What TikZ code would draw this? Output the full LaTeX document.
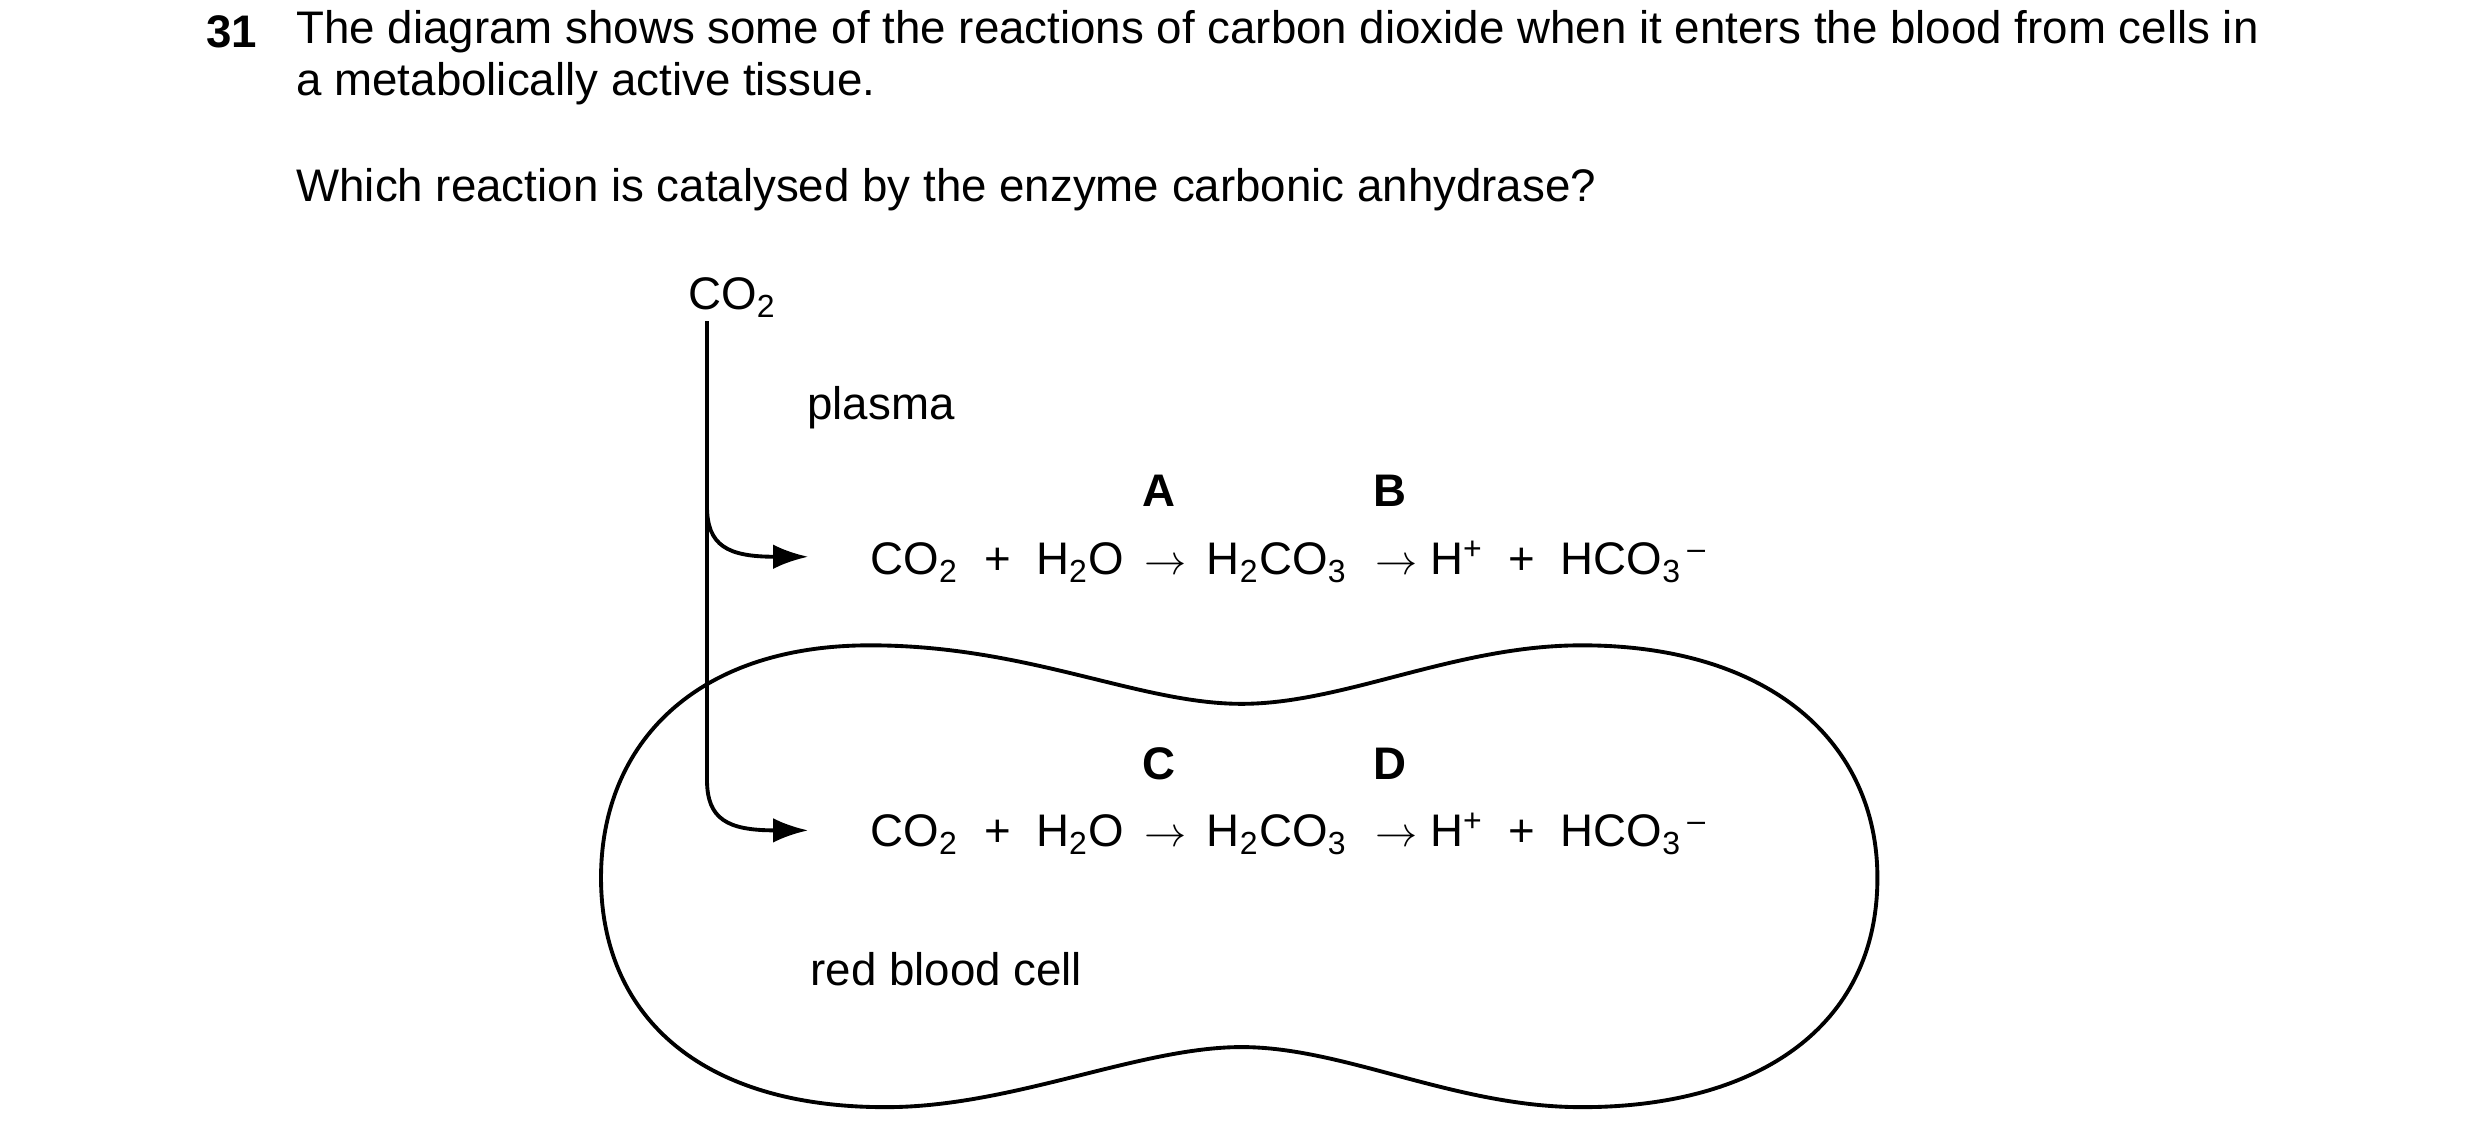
\documentclass[tikz,border=0pt]{standalone}
\usepackage{fontspec}
\setmainfont{Liberation Sans}
\usetikzlibrary{arrows.meta}
\tikzset{
  txt/.style={font=\fontsize{13}{16}\selectfont,inner sep=0pt},
  eq/.style={txt,anchor=west},
  lbl/.style={txt,font=\fontsize{13}{16}\selectfont\bfseries},
  feed/.style={line width=1.1pt,-{Latex[length=10pt,width=7pt]}}
}
\newcommand{\reac}{CO\textsubscript{2} \;+\; H\textsubscript{2}O \,$\rightarrow$\, H\textsubscript{2}CO\textsubscript{3} \,\,$\rightarrow$ H\textsuperscript{+} \;+\; HCO\textsubscript{3}\textsuperscript{\,--}}
\begin{document}
\begin{tikzpicture}[x=0.01582cm,y=-0.01582cm]
    \useasboundingbox (0,0) rectangle (1568,725.7);
    \node[txt,anchor=west,font=\fontsize{13}{16}\selectfont\bfseries] (num) at (130,20) {31};
    \node[txt,anchor=west] (q1) at (187,20) {The diagram shows some of the reactions of carbon dioxide when it enters the blood from cells in};
    \node[txt,anchor=west] (q2) at (187,53) {a metabolically active tissue.};
    \node[txt,anchor=west] (q3) at (187,120) {Which reaction is catalysed by the enzyme carbonic anhydrase?};

    \node[txt] (co2) at (463,188) {CO\textsubscript{2}};
    \node[txt,anchor=west] (plasma) at (510,258) {plasma};
    \node[txt,anchor=west] (rbc) at (512,613) {red blood cell};

    \node[eq] (eq1) at (550,355) {\reac};
    \node[eq] (eq2) at (550,527) {\reac};
    \node[lbl] (A) at (733,310) {A};
    \node[lbl] (B) at (879,310) {B};
    \node[lbl] (C) at (733,483) {C};
    \node[lbl] (D) at (879,483) {D};

    %% cell outline
    \draw[line width=1.1pt] (550,408) .. controls (650,408) and (720,445) .. (785,445)
      .. controls (850,445) and (920,408) .. (1000,408)
      .. controls (1120,408) and (1187,470) .. (1187,555)
      .. controls (1187,650) and (1110,700) .. (1000,700)
      .. controls (920,700) and (850,662) .. (785,662)
      .. controls (720,662) and (640,700) .. (560,700)
      .. controls (440,700) and (380,640) .. (380,555)
      .. controls (380,470) and (440,408) .. (550,408) -- cycle;

    %% entry arrows
    \coordinate (top) at (447,203);
    \coordinate (t1) at (511,352);
    \coordinate (t2) at (511,525);
    \draw[line width=1.1pt] (top) -- (447,322);
    \draw[feed] (447,320) .. controls (447,345) and (460,352) .. (t1);
    \draw[line width=1.1pt] (447,320) -- (447,495);
    \draw[feed] (447,493) .. controls (447,518) and (460,525) .. (t2);
\end{tikzpicture}
\end{document}
